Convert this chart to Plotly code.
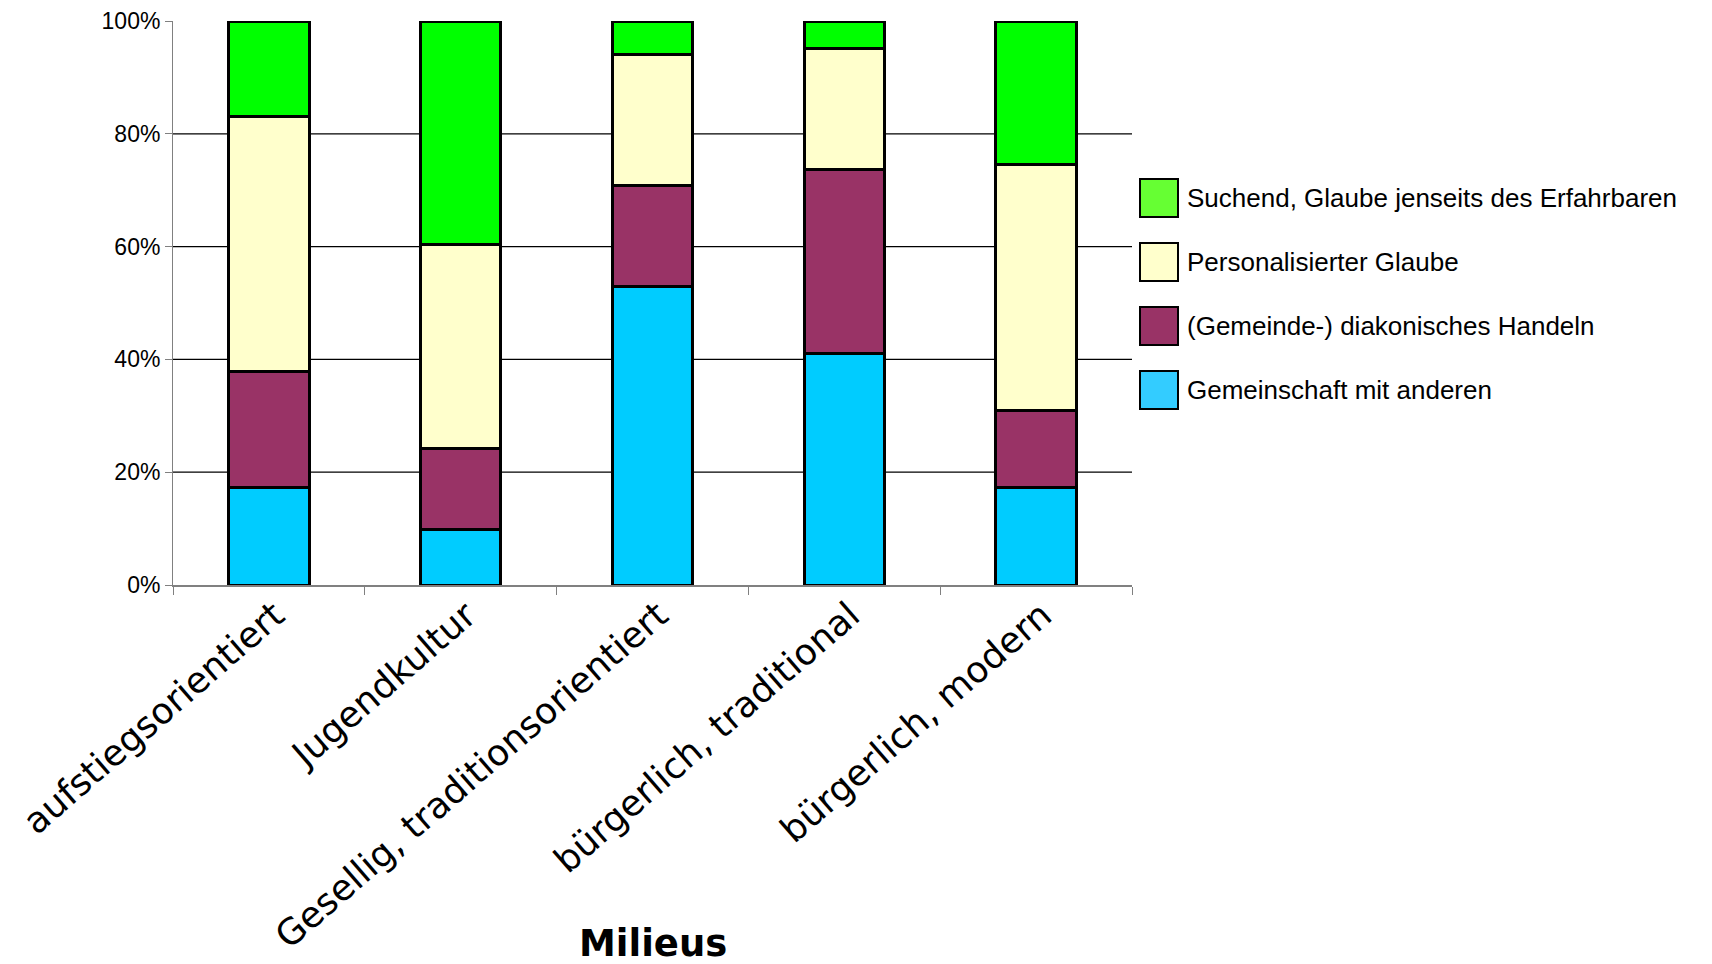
import plotly.graph_objects as go

categories = ["aufstiegsorientiert", "Jugendkultur", "Gesellig, traditionsorientiert",
              "bürgerlich, traditional", "bürgerlich, modern"]

gemeinschaft = [17.2, 9.9, 53.0, 41.0, 17.2]
diakonisch = [20.6, 14.3, 17.9, 32.6, 13.8]
personalisiert = [45.3, 36.2, 23.2, 21.5, 43.5]
suchend = [16.9, 39.6, 5.9, 4.9, 25.5]

series_names = ["Gemeinschaft mit anderen", "(Gemeinde-) diakonisches Handeln",
                "Personalisierter Glaube", "Suchend, Glaube jenseits des Erfahrbaren"]
series_values = [gemeinschaft, diakonisch, personalisiert, suchend]
bar_colors = ["#00CCFF", "#993366", "#FFFFCC", "#00FF00"]
legend_colors = ["#33CCFF", "#993366", "#FFFFCC", "#66FF33"]

y_ticks = [0, 20, 40, 60, 80, 100]
y_tick_labels = ["0%", "20%", "40%", "60%", "80%", "100%"]
grid_levels = [20, 40, 60, 80]
x_title = "Milieus"

fig = go.Figure()
for name, vals, col in zip(series_names, series_values, bar_colors):
    fig.add_trace(go.Bar(
        x=categories, y=vals, name=name, width=0.42,
        marker=dict(color=col, line=dict(color="black", width=3)),
        showlegend=False,
    ))

shapes = []
for g in grid_levels:
    shapes.append(dict(type="line", xref="paper", yref="y", x0=0, x1=1, y0=g, y1=g,
                       line=dict(color="black", width=1.2), layer="below"))

annotations = []
W, H = 1712, 964
L, R, T, B = 173, 1132, 21, 585
pw, ph = R - L, B - T
def px(x):
    return (x - L) / pw
def py(y):
    return (B - y) / ph
legend_order = list(range(len(series_names)))[::-1]
for i, idx in enumerate(legend_order):
    yc = 198 + 64 * i
    shapes.append(dict(type="rect", xref="paper", yref="paper",
                       x0=px(1140), x1=px(1178), y0=py(yc + 19), y1=py(yc - 19),
                       fillcolor=legend_colors[idx], line=dict(color="black", width=2)))
    annotations.append(dict(xref="paper", yref="paper", x=px(1185), y=py(yc),
                            xanchor="left", yanchor="middle", showarrow=False,
                            text=series_names[idx],
                            font=dict(family="Liberation Sans, Arial", size=26, color="black")))

annotations.append(dict(xref="paper", yref="paper", x=0.5, y=py(944),
                        xanchor="center", yanchor="middle", showarrow=False,
                        text="<b>" + x_title + "</b>",
                        font=dict(family="DejaVu Sans", size=37, color="black")))

fig.update_layout(
    template="none",
    barmode="stack",
    width=W, height=H,
    margin=dict(l=L, r=W - R, t=T, b=H - B, autoexpand=False),
    paper_bgcolor="white", plot_bgcolor="white",
    shapes=shapes, annotations=annotations,
    showlegend=False,
    xaxis=dict(
        type="category", tickangle=-41, tickson="boundaries",
        ticks="outside", ticklen=8, tickcolor="#808080", tickwidth=1,
        showline=True, linecolor="#808080", linewidth=2,
        showgrid=False, automargin=False,
        ticklabelshift=6, ticklabelstandoff=-7,
        tickfont=dict(family="DejaVu Sans", size=36, color="black"),
    ),
    yaxis=dict(
        range=[0, 100], tickmode="array", tickvals=y_ticks, ticktext=y_tick_labels,
        ticks="outside", ticklen=7, tickcolor="#808080", tickwidth=1,
        showline=True, linecolor="#808080", linewidth=1,
        showgrid=False, zeroline=False, automargin=False,
        tickfont=dict(family="Liberation Sans, Arial", size=23, color="black"),
    ),
)

fig.write_html(
    "out.html",
    config={"displayModeBar": False},
    post_script="document.body.style.margin='0';document.body.style.overflow='hidden';",
)
